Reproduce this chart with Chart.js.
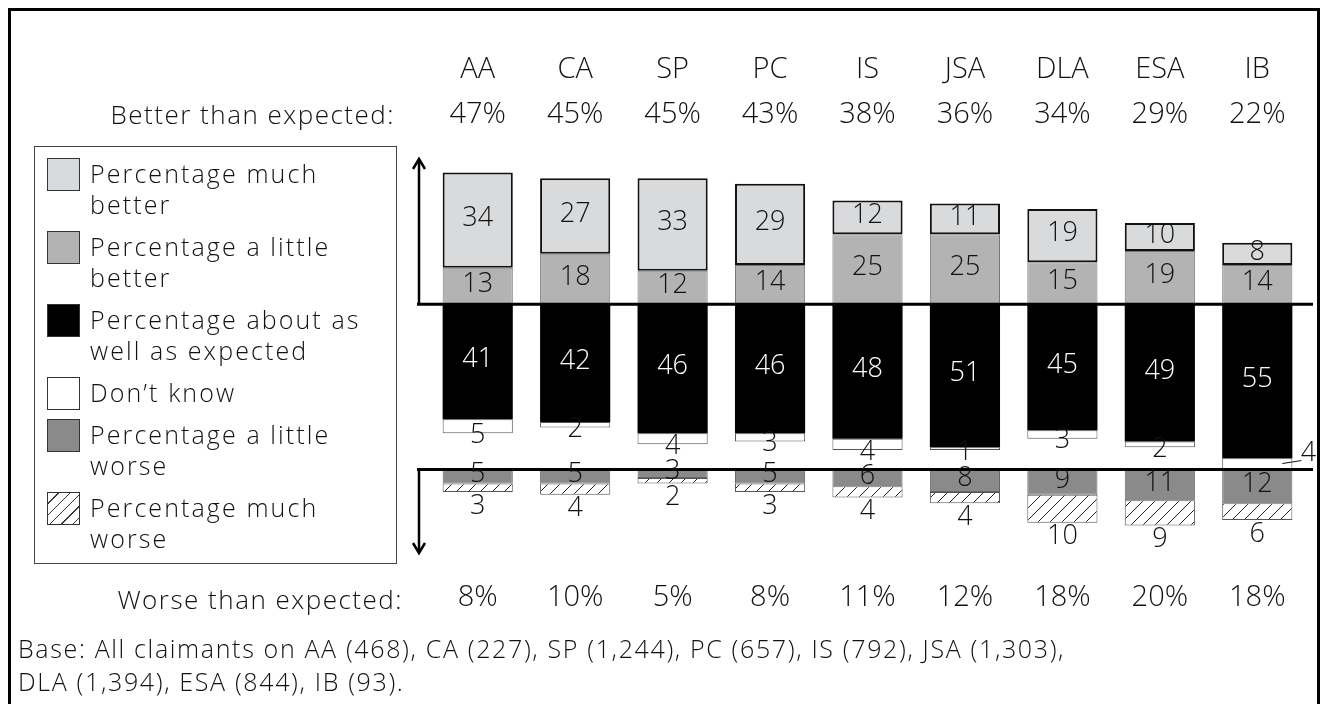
<!DOCTYPE html>
<html>
<head>
<meta charset="utf-8">
<title>Better or worse than expected</title>
<script src="https://cdn.jsdelivr.net/npm/chart.js"></script>
<style>
  body { margin: 0; background: #fff; font-family: "Open Sans", sans-serif; font-weight: 350; color: #111; }
  #frame { position: absolute; left: 8px; top: 8px; width: 1306px; height: 740px; border: 3px solid #000; }
  #chart { position: absolute; left: 0; top: 0; }
  .rowlabel { position: absolute; font-size: 26px; letter-spacing: 1.5px; white-space: nowrap; line-height: 32px; }
  #legend { position: absolute; left: 34px; top: 146px; width: 361px; height: 416px; border: 1px solid #444; }
  .item { position: absolute; left: 0; }
  .sw { position: absolute; left: 12px; top: 0; width: 31px; height: 31px; border: 1px solid #333; }
  .txt { position: absolute; left: 55px; top: 0; width: 300px; font-size: 25px; line-height: 31px; letter-spacing: 2.1px; white-space: nowrap; }
  #base { position: absolute; left: 18px; top: 632px; font-size: 25px; line-height: 33px; letter-spacing: 1.65px; white-space: nowrap; }
</style>
</head>
<body>
<div id="frame"></div>
<canvas id="chart" width="1324" height="704"></canvas>
<div class="rowlabel" style="right: 929px; top: 98px;">Better than expected:</div>
<div class="rowlabel" style="right: 921px; top: 583px;">Worse than expected:</div>
<div id="legend"></div>
<div id="base">Base: All claimants on AA (468), CA (227), SP (1,244), PC (657), IS (792), JSA (1,303),<br>DLA (1,394), ESA (844), IB (93).</div>

<script>
// benefits, ordered as in the source chart
const categories = ['AA', 'CA', 'SP', 'PC', 'IS', 'JSA', 'DLA', 'ESA', 'IB'];

// percentages per benefit
const muchBetter      = [34, 27, 33, 29, 12, 11, 19, 10, 8];
const littleBetter    = [13, 18, 12, 14, 25, 25, 15, 19, 14];
const aboutAsExpected = [41, 42, 46, 46, 48, 51, 45, 49, 55];
const dontKnow        = [5, 2, 4, 3, 4, 1, 3, 2, 4];
const littleWorse     = [5, 5, 3, 5, 6, 8, 9, 11, 12];
const muchWorse       = [3, 4, 2, 3, 4, 4, 10, 9, 6];

// summary rows
const betterThanExpected = [47, 45, 45, 43, 38, 36, 34, 29, 22];
const worseThanExpected  = [8, 10, 5, 8, 11, 12, 18, 20, 18];

// legend text, with the line breaks of the source
const legendLabels = [
  'Percentage much\nbetter',
  'Percentage a little\nbetter',
  'Percentage about as\nwell as expected',
  'Don\u2019t know',
  'Percentage a little\nworse',
  'Percentage much\nworse'
];

// the "worse" bars hang from a second baseline further down the same axis
const worseBase = -59;

const FONT = '"Open Sans", sans-serif';

// diagonal hatch for "much worse"
function hatch() {
  const s = 12;
  const c = document.createElement('canvas');
  c.width = s; c.height = s;
  const g = c.getContext('2d');
  g.fillStyle = '#fff';
  g.fillRect(0, 0, s, s);
  g.strokeStyle = '#222';
  g.lineWidth = 1;
  g.beginPath();
  g.moveTo(0, s); g.lineTo(s, 0);
  g.moveTo(-2, 2); g.lineTo(2, -2);
  g.moveTo(s - 2, s + 2); g.lineTo(s + 2, s - 2);
  g.stroke();
  return g.createPattern(c, 'repeat');
}

const canvas = document.getElementById('chart');
const ctx = canvas.getContext('2d');

const datasets = [
  {
    label: legendLabels[0],
    data: categories.map((c, i) => [littleBetter[i], littleBetter[i] + muchBetter[i]]),
    values: muchBetter, labelPos: 'center', labelColor: '#111',
    backgroundColor: '#d9dadc', borderColor: '#111', borderWidth: 2
  },
  {
    label: legendLabels[1],
    data: categories.map((c, i) => [0, littleBetter[i]]),
    values: littleBetter, labelPos: 'center', labelColor: '#111',
    backgroundColor: '#b3b3b3', borderColor: '#777', borderWidth: 1
  },
  {
    label: legendLabels[2],
    data: categories.map((c, i) => [-aboutAsExpected[i], 0]),
    values: aboutAsExpected, labelPos: 'center', labelColor: '#fff',
    backgroundColor: '#000', borderColor: '#000', borderWidth: 0
  },
  {
    label: legendLabels[3],
    data: categories.map((c, i) => [-aboutAsExpected[i] - dontKnow[i], -aboutAsExpected[i]]),
    values: dontKnow, labelPos: 'edge', labelColor: '#111',
    backgroundColor: '#fff', borderColor: '#555', borderWidth: 1
  },
  {
    label: legendLabels[4],
    data: categories.map((c, i) => [worseBase - littleWorse[i], worseBase]),
    values: littleWorse, labelPos: 'center', labelColor: '#111',
    backgroundColor: '#8a8a8a', borderColor: '#666', borderWidth: 1
  },
  {
    label: legendLabels[5],
    data: categories.map((c, i) => [worseBase - littleWorse[i] - muchWorse[i], worseBase - littleWorse[i]]),
    values: muchWorse, labelPos: 'below', labelColor: '#111',
    backgroundColor: hatch(), borderColor: '#555', borderWidth: 1
  }
];

// baselines and arrows
const guides = {
  id: 'guides',
  afterDatasetsDraw(chart) {
    const { ctx, chartArea, scales } = chart;
    const y0 = scales.y.getPixelForValue(0);
    const y1 = scales.y.getPixelForValue(worseBase);
    const ax = chartArea.left - 10;
    const x0 = chartArea.left - 12;
    const x1 = chartArea.right + 7;
    ctx.save();
    ctx.strokeStyle = '#000';
    ctx.lineWidth = 3;
    ctx.beginPath();
    ctx.moveTo(x0, y0); ctx.lineTo(x1, y0);
    ctx.moveTo(x0, y1); ctx.lineTo(x1, y1);
    ctx.stroke();
    ctx.lineWidth = 2.5;
    const top = chartArea.top + 6;
    const bottom = chartArea.bottom - 9;
    ctx.beginPath();
    ctx.moveTo(ax, y0); ctx.lineTo(ax, top);
    ctx.moveTo(ax - 6, top + 10); ctx.lineTo(ax, top); ctx.lineTo(ax + 6, top + 10);
    ctx.moveTo(ax, y1); ctx.lineTo(ax, bottom);
    ctx.moveTo(ax - 6, bottom - 10); ctx.lineTo(ax, bottom); ctx.lineTo(ax + 6, bottom - 10);
    ctx.stroke();
    ctx.restore();
  }
};

// value labels, category names and summary rows
const labels = {
  id: 'labels',
  afterDraw(chart) {
    const { ctx, scales } = chart;
    const y1 = scales.y.getPixelForValue(worseBase);
    ctx.save();
    ctx.textAlign = 'center';
    ctx.textBaseline = 'middle';
    ctx.font = '350 27px ' + FONT;
    chart.data.datasets.forEach((ds, d) => {
      const meta = chart.getDatasetMeta(d);
      meta.data.forEach((bar, i) => {
        const top = Math.min(bar.y, bar.base);
        const bottom = Math.max(bar.y, bar.base);
        const txt = String(ds.values[i]);
        ctx.fillStyle = ds.labelColor;
        if (ds.labelPos === 'edge' && Math.abs(bottom - y1) < 4) {
          // no room above the second baseline: pull the label out to the right
          const lx = bar.x + bar.width / 2 + 16;
          const ly = bottom - 16;
          ctx.strokeStyle = '#111';
          ctx.lineWidth = 1;
          ctx.beginPath();
          ctx.moveTo(bar.x + bar.width / 2 - 10, bottom - 6);
          ctx.lineTo(lx - 7, bottom - 9);
          ctx.stroke();
          ctx.fillText(txt, lx, ly);
        } else if (ds.labelPos === 'edge') {
          ctx.fillText(txt, bar.x, bottom + 2);
        } else if (ds.labelPos === 'below') {
          ctx.fillText(txt, bar.x, bottom + 14);
        } else {
          ctx.fillText(txt, bar.x, (top + bottom) / 2 - 2);
        }
      });
    });
    ctx.fillStyle = '#111';
    ctx.font = '350 29px ' + FONT;
    categories.forEach((c, i) => {
      const x = scales.x.getPixelForValue(i);
      ctx.fillText(c, x, 70);
      ctx.fillText(betterThanExpected[i] + '%', x, 115);
      ctx.fillText(worseThanExpected[i] + '%', x, 598);
    });
    ctx.restore();
  }
};

new Chart(ctx, {
  type: 'bar',
  data: { labels: categories, datasets: datasets },
  options: {
    responsive: false,
    animation: false,
    layout: { padding: { left: 429, right: 18, top: 153, bottom: 142 } },
    datasets: {
      bar: { grouped: false, barPercentage: 0.72, categoryPercentage: 1, borderSkipped: false }
    },
    scales: {
      x: { display: false },
      y: { display: false, min: -92, max: 54 }
    },
    plugins: { legend: { display: false }, tooltip: { enabled: false } }
  },
  plugins: [guides, labels]
});

// legend box, built from the same datasets
const legend = document.getElementById('legend');
let y = 11;
datasets.forEach((ds, i) => {
  const lines = ds.label.split('\n');
  const item = document.createElement('div');
  item.className = 'item';
  item.style.top = y + 'px';
  const sw = document.createElement('div');
  sw.className = 'sw';
  sw.style.background = i === 5
    ? 'repeating-linear-gradient(135deg, #fff 0 7px, #333 7px 8px)'
    : ds.backgroundColor;
  const tx = document.createElement('div');
  tx.className = 'txt';
  lines.forEach((line, k) => {
    if (k) tx.appendChild(document.createElement('br'));
    tx.appendChild(document.createTextNode(line));
  });
  item.appendChild(sw);
  item.appendChild(tx);
  legend.appendChild(item);
  y += lines.length * 31 + 11;
});
</script>
</body>
</html>
